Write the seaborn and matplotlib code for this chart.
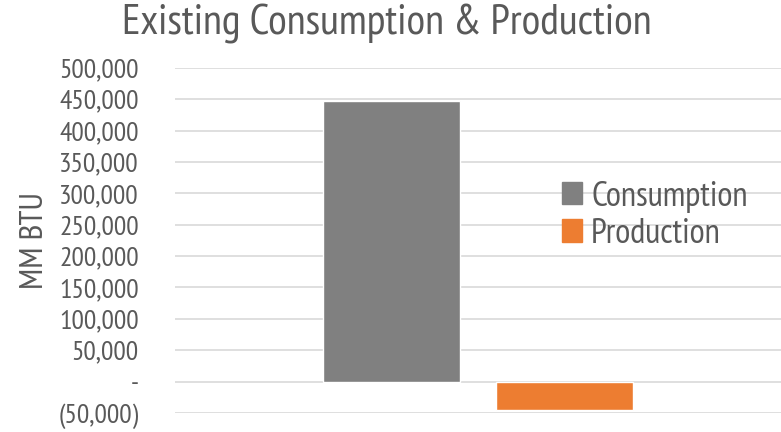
import matplotlib
matplotlib.use("Agg")
import matplotlib.pyplot as plt
import matplotlib.ticker as mticker
import pandas as pd
import seaborn as sns

# données
categories = ["Existing"]
series = ["Consumption", "Production"]
values = [447000, -46000]
colors = ["#808080", "#ED7D31"]
yticks = list(range(-50000, 500001, 50000))

df = pd.DataFrame({"cat": categories * len(series), "serie": series, "val": values})

sns.set_theme(style="white")
plt.rcParams["font.family"] = ["PT Sans Narrow", "Roboto Condensed", "DejaVu Sans"]
text_col = "#595959"

fig = plt.figure(figsize=(7.81, 4.32), dpi=100)
ax = fig.add_axes([0.224, 0.044, 0.776, 0.799])

sns.barplot(data=df, x="cat", y="val", hue="serie", palette=colors, saturation=1,
            width=0.571, gap=0.21, ax=ax, zorder=3)

ax.set_xlim(-0.5, 0.5)
ax.set_ylim(-50000, 500000)
ax.set_yticks(yticks)


def fmt(v, pos):
    if v == 0:
        return "-"
    if v < 0:
        return f"({abs(int(v)):,})"
    return f"{int(v):,}"


ax.yaxis.set_major_formatter(mticker.FuncFormatter(fmt))
ax.tick_params(axis="y", labelsize=20, labelcolor=text_col, length=0, pad=26)
ax.set_xticks([])
ax.set_xlabel("")
ax.set_ylabel("MM BTU", fontsize=24, color=text_col, labelpad=6)
ax.grid(axis="y", color="#D9D9D9", linewidth=1.2, zorder=0)
for s in ax.spines.values():
    s.set_visible(False)

ax.legend_.remove()
handles = [plt.Rectangle((0, 0), 1, 1, color=c) for c in colors]
fig.legend(handles, series, loc="center left", bbox_to_anchor=(0.719, 0.502),
           frameon=False, fontsize=25, labelcolor=text_col,
           handlelength=0.6, handleheight=0.6, handletextpad=0.25,
           labelspacing=0.15, borderpad=0, borderaxespad=0)

fig.suptitle("Existing Consumption & Production", fontsize=31, color=text_col,
             x=0.495, y=0.99, va="top")

fig.savefig("out.png", dpi=100)
